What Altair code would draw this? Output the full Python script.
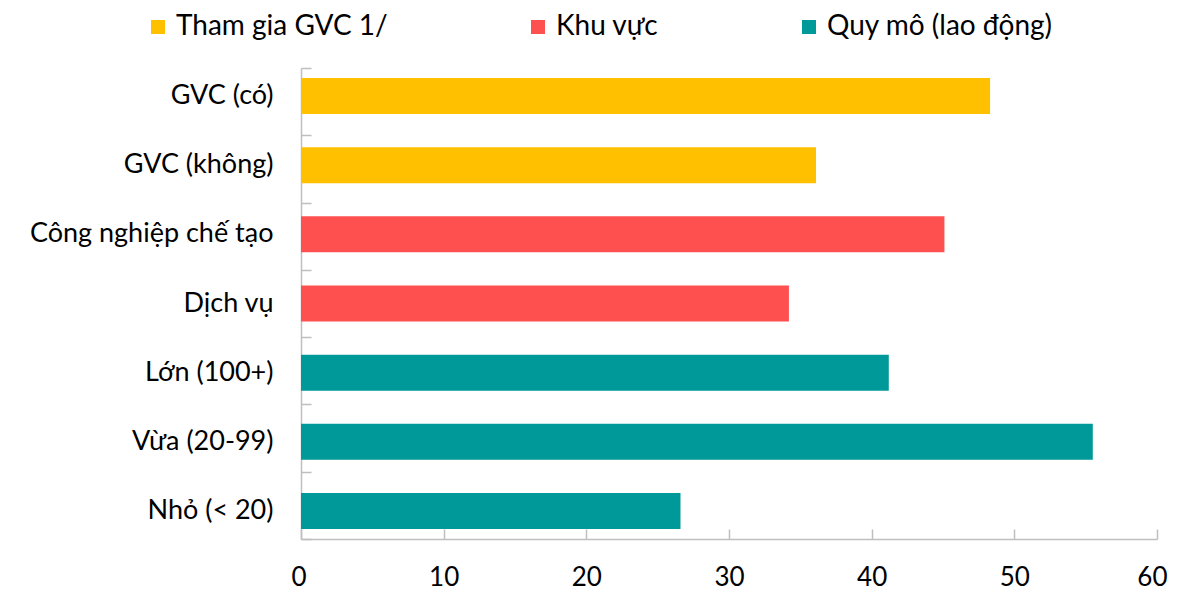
import altair as alt
import pandas as pd

categories = ["GVC (có)", "GVC (không)", "Công nghiệp chế tạo", "Dịch vụ",
              "Lớn (100+)", "Vừa (20-99)", "Nhỏ (< 20)"]
values = [48.3, 36.1, 45.1, 34.2, 41.2, 55.5, 26.6]
groups = ["Tham gia GVC 1/", "Tham gia GVC 1/", "Khu vực", "Khu vực",
          "Quy mô (lao động)", "Quy mô (lao động)", "Quy mô (lao động)"]
group_order = ["Tham gia GVC 1/", "Khu vực", "Quy mô (lao động)"]
colors = ["#FFC000", "#FF5050", "#009999"]
x_ticks = [0, 10, 20, 30, 40, 50, 60]
band_edges = [0, 1, 2, 3, 4, 5, 6, 7]  # category boundaries for y tick marks

df = pd.DataFrame({"cat": categories, "val": values, "grp": groups})
edges = pd.DataFrame({"edge": band_edges})

FONT = "Lato"
AX = "#BFBFBF"
xscale = alt.Scale(domain=[0, 60], nice=False)
yscale = alt.Scale(paddingInner=0.48, paddingOuter=0.145)

# main layer: bars, axis domains and labels
bars = alt.Chart(df).mark_bar().encode(
    x=alt.X("val:Q", scale=xscale,
            axis=alt.Axis(orient="bottom", values=x_ticks, title=None, grid=False,
                          domainColor=AX, ticks=False, domainWidth=1.5,
                          labelFont=FONT, labelFontSize=26, labelColor="#000000",
                          labelPadding=25, labelLimit=0, labelFlush=True,
                          labelFlushOffset=10)),
    y=alt.Y("cat:N", sort=categories, scale=yscale,
            axis=alt.Axis(orient="left", title=None, domainColor=AX, ticks=False,
                          domainWidth=1.5, labelFont=FONT, labelFontSize=27,
                          labelColor="#000000", labelPadding=28, labelLimit=0)),
    color=alt.Color("grp:N", scale=alt.Scale(domain=group_order, range=colors),
                    legend=alt.Legend(title=None, orient="none", legendX=-157, legendY=-55,
                                      direction="horizontal", symbolType="square",
                                      symbolSize=196, labelFont=FONT, labelFontSize=28,
                                      labelColor="#000000", columnPadding=136,
                                      gridAlign="none", symbolStrokeWidth=0,
                                      labelOffset=4, labelLimit=0)),
)

# inward-pointing x ticks drawn by a shifted axis
xticks = alt.Chart(df).mark_point(opacity=0).encode(
    x=alt.X("val:Q", scale=xscale,
            axis=alt.Axis(orient="bottom", values=x_ticks, title=None, grid=False,
                          domain=False, labels=False, tickColor=AX, tickSize=10,
                          tickWidth=1.5, offset=-10)),
)

# inward-pointing y ticks at category boundaries
yticks = alt.Chart(edges).mark_point(opacity=0).encode(
    y=alt.Y("edge:Q", scale=alt.Scale(domain=[0, 7], nice=False, zero=False),
            axis=alt.Axis(orient="left", values=band_edges, title=None, grid=False,
                          domain=False, labels=False, tickColor=AX, tickSize=10,
                          tickWidth=1.5, offset=-10)),
)

chart = alt.layer(bars, xticks, yticks).resolve_scale(y="independent").resolve_axis(
    x="independent", y="independent"
).properties(
    width=856, height=471,
    autosize=alt.AutoSizeParams(type="none"),
    padding={"left": 293, "top": 60, "right": 13, "bottom": 52},
).configure_view(stroke=None)

chart.save("out.html", embed_options={"renderer": "svg", "actions": False})
